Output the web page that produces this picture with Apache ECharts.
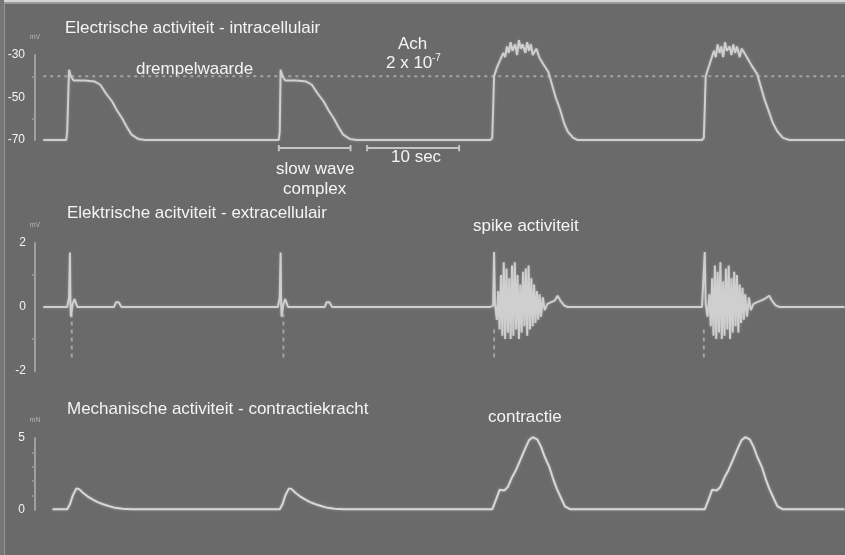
<!DOCTYPE html>
<html>
<head>
<meta charset="utf-8">
<script src="https://cdn.jsdelivr.net/npm/echarts@6/dist/echarts.min.js"></script>
<style>
html,body{margin:0;padding:0;background:#6a6a6a;}
#chart{width:845px;height:555px;}
</style>
</head>
<body>
<div id="chart"></div>
<script>
// time in seconds (10 sec scale bar), values per panel
const intraTicks = [-70, -50, -30];      // mV
const extraTicks = [-2, 0, 2];           // mV
const forceTicks = [0, 5];               // mN
const thresholdValue = -40;              // drempelwaarde (mV)
const thresholdSpan = [0.9, 88];

// Electrische activiteit - intracellulair (t s, mV)
const intraWave1 = [[0.9,-70],[3.4,-70],[3.5,-66],[3.7,-37],[3.9,-40],[4.2,-42],[5.4,-42],[6.5,-42.5],[7.1,-44],[7.7,-48],[8.4,-52],[8.9,-56],[9.5,-60],[10.0,-64],[10.5,-67.5],[11.2,-69.5],[12.0,-70]];
const intraWave2 = [[26.5,-70],[26.6,-66],[26.7,-37],[26.9,-40],[27.2,-42],[28.4,-42],[29.5,-42.5],[30.1,-44],[30.7,-48],[31.4,-52],[31.9,-56],[32.5,-60],[33.0,-64],[33.5,-67.5],[34.2,-69.5],[35.0,-70]];
const intraWave3 = [[49.5,-70],[49.7,-69],[49.8,-55],[49.9,-40],[50.2,-36],[50.5,-33],[50.9,-29],[51.1,-31],[51.3,-26],[51.5,-29],[51.7,-24],[51.9,-28],[52.2,-25],[52.4,-30],[52.6,-23],[52.8,-27],[53.0,-25],[53.3,-29],[53.5,-24],[53.7,-28],[53.9,-25],[54.1,-30],[54.5,-27],[54.8,-31],[55.2,-34],[55.8,-38],[56.2,-44],[56.6,-50],[57.1,-56],[57.5,-62],[57.9,-66],[58.5,-69],[59.0,-70]];
const intraWave4 = [[72.5,-70],[72.7,-69],[72.8,-55],[72.9,-40],[73.2,-36],[73.5,-32],[73.8,-28],[74.0,-31],[74.2,-25],[74.4,-29],[74.6,-26],[74.8,-31],[75.0,-24],[75.2,-28],[75.5,-26],[75.7,-30],[75.9,-25],[76.1,-29],[76.3,-26],[76.6,-31],[76.8,-27],[77.1,-29],[77.5,-32],[77.9,-35],[78.5,-39],[78.9,-45],[79.3,-51],[79.8,-57],[80.2,-62],[80.7,-66],[81.3,-69],[82.0,-70],[88,-70]];

// Elektrische activiteit - extracellulair (t s, mV)
const extraPart1 = [[0.9,0],[3.5,0],[3.7,0.3],[3.8,1.7],[3.85,0.2],[3.9,-0.3],[4.1,0.1],[4.3,0.25],[4.6,0],[8.6,0],[8.8,0.15],[9.1,0.15],[9.4,0]];
const extraPart2 = [[26.4,0],[26.6,0.3],[26.7,1.7],[26.75,0.2],[26.8,-0.3],[27.0,0.1],[27.2,0.25],[27.5,0],[31.5,0],[31.7,0.15],[32.0,0.15],[32.3,0]];
const extraBurst1 = [[49.5,0],[49.8,0.05],[49.9,1.72],[50.0,0.1],[50.2,-0.4],[50.35,0.5],[50.5,-0.7],[50.65,1.0],[50.8,-0.9],[50.95,1.4],[51.1,-1.0],[51.25,1.2],[51.4,-0.8],[51.55,0.9],[51.7,-1.0],[51.85,1.3],[52.0,-0.9],[52.15,1.4],[52.3,-0.7],[52.45,1.0],[52.6,-1.0],[52.75,0.7],[52.9,-0.8],[53.05,1.1],[53.2,-0.6],[53.35,1.2],[53.5,-0.9],[53.65,1.3],[53.8,-0.7],[53.95,0.9],[54.1,-0.6],[54.25,0.7],[54.4,-0.5],[54.55,0.5],[54.7,-0.4],[54.85,0.4],[55.0,-0.3],[55.2,0.3],[55.4,-0.1],[55.7,0.1],[56.1,0.15],[56.5,0.2],[56.8,0.35],[57.1,0.2],[57.5,0.05],[57.9,0]];
const extraBurst2 = [[72.5,0],[72.7,0.05],[72.8,1.72],[72.9,0.1],[73.1,-0.3],[73.3,0.4],[73.45,-0.6],[73.6,0.9],[73.75,-0.9],[73.9,1.3],[74.05,-1.0],[74.2,1.1],[74.35,-0.8],[74.5,1.4],[74.65,-1.0],[74.8,0.8],[74.95,-0.9],[75.1,1.2],[75.25,-0.7],[75.4,1.3],[75.55,-1.0],[75.7,0.9],[75.85,-0.8],[76.0,1.1],[76.15,-0.6],[76.3,1.0],[76.45,-0.8],[76.6,0.7],[76.75,-0.5],[76.9,0.6],[77.05,-0.4],[77.2,0.4],[77.4,-0.3],[77.6,0.3],[77.8,-0.1],[78.1,0.1],[78.5,0.15],[78.9,0.2],[79.3,0.25],[79.8,0.35],[80.1,0.2],[80.5,0.05],[80.9,0],[88,0]];
// faint dashed traces below the first spikes (t s, mV); null = gap
const extraDashed = [[4.0,-0.2],[4.0,-1.6],null,[27.0,-0.2],[27.0,-1.6],null,[49.9,-0.7],[49.9,-1.6],null,[72.7,-0.7],[72.7,-1.6]];

// Mechanische activiteit - contractiekracht (t s, mN)
const forceWave1 = [[1.9,0.05],[3.5,0.05],[3.8,0.4],[4.1,1.0],[4.5,1.5],[4.8,1.45],[5.2,1.2],[5.7,0.95],[6.2,0.75],[6.8,0.55],[7.4,0.4],[8.0,0.28],[8.7,0.15],[9.5,0.08],[10.5,0.05]];
const forceWave2 = [[26.6,0.05],[26.9,0.4],[27.2,1.0],[27.6,1.5],[27.9,1.45],[28.3,1.2],[28.8,0.95],[29.3,0.75],[29.9,0.55],[30.5,0.4],[31.1,0.28],[31.8,0.15],[32.6,0.08],[33.6,0.05]];
const forceWave3 = [[49.7,0.05],[50.1,0.7],[50.5,1.4],[51.0,1.35],[51.4,1.6],[51.8,2.2],[52.3,2.8],[52.7,3.4],[53.3,4.3],[53.7,4.85],[54.1,5.05],[54.6,4.9],[55.0,4.4],[55.4,3.7],[55.9,3.0],[56.3,2.2],[56.7,1.5],[57.2,0.8],[57.6,0.25],[58.2,0.05]];
const forceWave4 = [[72.8,0.05],[73.2,0.7],[73.6,1.4],[74.1,1.35],[74.5,1.6],[74.9,2.2],[75.4,2.8],[75.8,3.4],[76.4,4.3],[76.8,4.85],[77.2,5.05],[77.7,4.9],[78.1,4.4],[78.5,3.7],[79.0,3.0],[79.4,2.2],[79.8,1.5],[80.3,0.8],[80.7,0.25],[81.3,0.05],[88,0.05]];

// scale bars drawn in the top panel (t s, mV)
const slowWaveBar = [[26.5,-72.3],[26.5,-75.3],null,[26.5,-73.8],[34.3,-73.8],null,[34.3,-72.3],[34.3,-75.3]];
const tenSecBar = [[36.1,-72.3],[36.1,-75.3],null,[36.1,-73.8],[46.1,-73.8],null,[46.1,-72.3],[46.1,-75.3]];

const FONT = '"Liberation Sans", Arial, Helvetica, sans-serif';
const TRACE = '#cfcfcf';
const AXIS = '#a0a0a0';
const TXT = '#f4f4f4';
const X_MAX = 810 / 9.2;

const chart = echarts.init(document.getElementById('chart'), null, {renderer: 'canvas'});

function xAx(i) {
  return {type: 'value', gridIndex: i, min: 0, max: X_MAX, show: false};
}
function yAx(i, ticks, name, offset, margin, minorSplit) {
  return {
    type: 'value', gridIndex: i,
    min: ticks[0], max: ticks[ticks.length - 1],
    interval: ticks[1] - ticks[0],
    offset: offset,
    name: name, nameLocation: 'end', nameGap: 14,
    nameTextStyle: {color: '#b5b5b5', fontSize: 7, fontFamily: FONT, align: 'center'},
    axisLine: {show: true, lineStyle: {color: AXIS, width: 2}},
    axisTick: {show: false},
    minorTick: {show: true, splitNumber: minorSplit, length: 3, lineStyle: {color: '#8f8f8f', width: 2}},
    splitLine: {show: false},
    axisLabel: {color: TXT, fontSize: 12, fontFamily: FONT, margin: margin}
  };
}
function trace(data, xi, extra) {
  return Object.assign({
    type: 'line', xAxisIndex: xi, yAxisIndex: xi, data: data,
    showSymbol: false, symbol: 'none', clip: false, silent: true,
    connectNulls: false, animation: false,
    lineStyle: {color: TRACE, width: 2, shadowBlur: 3, shadowColor: 'rgba(200,200,200,0.45)'}
  }, extra || {});
}

const labels = [
  ['Electrische activiteit - intracellulair', 65, 28],
  ['drempelwaarde', 136, 69],
  ['Ach', 398, 44],
  ['2 x 10', 386, 63],
  ['slow wave', 276, 169],
  ['complex', 283, 189],
  ['10 sec', 391, 157],
  ['Elektrische acitviteit - extracellulair', 67, 213],
  ['spike activiteit', 473, 226],
  ['Mechanische activiteit - contractiekracht', 67, 409],
  ['contractie', 488, 417]
];

const option = {
  backgroundColor: '#6a6a6a',
  animation: false,
  grid: [
    {left: 35, top: 55, width: 810, height: 85},
    {left: 35, top: 243, width: 810, height: 128},
    {left: 35, top: 438, width: 810, height: 72}
  ],
  xAxis: [xAx(0), xAx(1), xAx(2)],
  yAxis: [
    yAx(0, intraTicks, 'mV', 0, 10, 2),
    yAx(1, extraTicks, 'mV', 3, 6, 2),
    yAx(2, forceTicks, 'mN', 3, 7, 5)
  ],
  series: [
    trace([[thresholdSpan[0], thresholdValue], [thresholdSpan[1], thresholdValue]], 0,
      {lineStyle: {color: '#a4a4a4', width: 2, type: [3, 4]}}),
    trace(intraWave1.concat(intraWave2, intraWave3, intraWave4), 0),
    trace(slowWaveBar, 0, {lineStyle: {color: '#c4c4c4', width: 2}}),
    trace(tenSecBar, 0, {lineStyle: {color: '#c4c4c4', width: 2}}),
    trace(extraDashed, 1, {lineStyle: {color: '#a2a2a2', width: 2, type: [4, 4]}}),
    trace(extraPart1.concat(extraPart2, extraBurst1, extraBurst2), 1),
    trace(forceWave1.concat(forceWave2, forceWave3, forceWave4), 2,
      {lineStyle: {color: '#d8d8d8', width: 2, shadowBlur: 3, shadowColor: 'rgba(210,210,210,0.45)'}})
  ],
  graphic: [
    {type: 'rect', shape: {x: 0, y: 0, width: 845, height: 2}, style: {fill: '#d6d6d6'}, silent: true},
    {type: 'rect', shape: {x: 0, y: 2, width: 845, height: 2}, style: {fill: '#9a9a9a'}, silent: true},
    {type: 'rect', shape: {x: 0, y: 0, width: 4, height: 555}, style: {fill: '#767676'}, silent: true},
    {type: 'rect', shape: {x: 4, y: 4, width: 1, height: 551}, style: {fill: '#959595'}, silent: true}
  ].concat(labels.map(function (l) {
    return {type: 'text', x: l[1], y: l[2], silent: true,
      style: {text: l[0], fill: TXT, font: '17px ' + FONT, textVerticalAlign: 'middle', textAlign: 'left'}};
  })).concat([
    {type: 'text', x: 432, y: 58, silent: true,
      style: {text: '-7', fill: TXT, font: '10px ' + FONT, textVerticalAlign: 'middle', textAlign: 'left'}}
  ])
};
chart.setOption(option);
</script>
</body>
</html>
